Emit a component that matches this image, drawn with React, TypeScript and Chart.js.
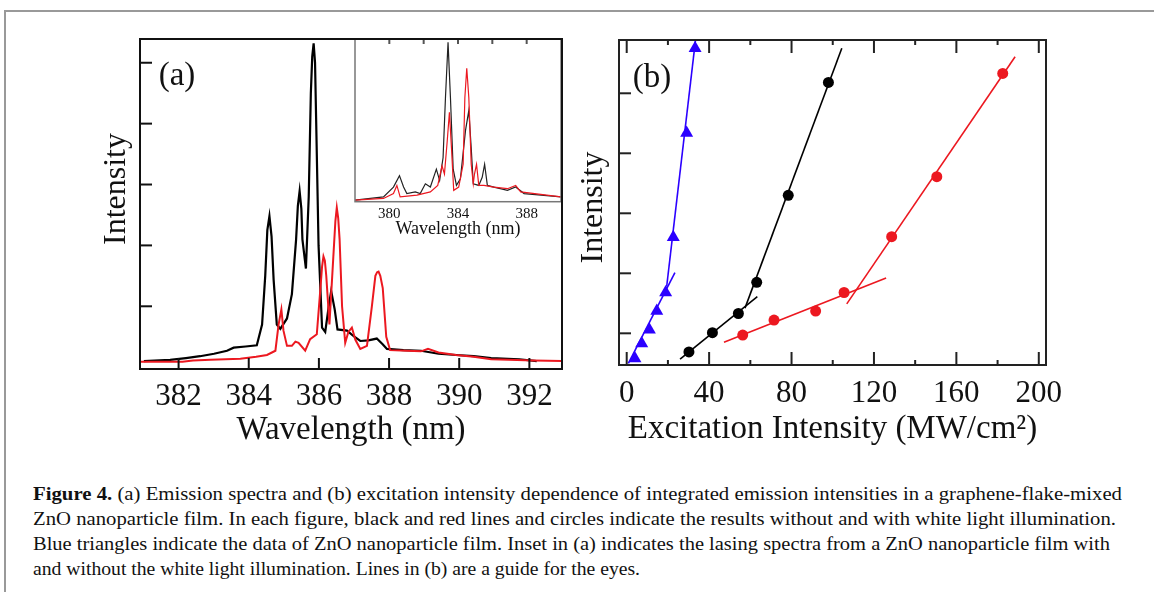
import React, { useEffect, useLayoutEffect, useRef } from 'react';
import { Chart, registerables } from 'chart.js';

Chart.register(...registerables);

const FONT = '"Liberation Serif", "Times New Roman", serif';
const RED = 'rgb(236, 24, 32)';
const BLUE = 'rgb(43, 0, 255)';
const INK = '#111';

// ---------- Panel (a): emission spectra ----------
const specBlackWl = [381.01, 381.76, 382.21, 382.61, 383.01, 383.38, 383.57, 383.91, 384.23, 384.38, 384.47, 384.53, 384.59, 384.65, 384.71, 384.8, 384.9, 385.09, 385.23, 385.35, 385.4, 385.45, 385.5, 385.53, 385.63, 385.71, 385.77, 385.81, 385.85, 385.89, 385.92, 385.99, 386.09, 386.18, 386.28, 386.35, 386.45, 386.53, 386.8, 387.01, 387.18, 387.41, 387.65, 387.81, 387.94, 388.41, 388.91, 389.41, 389.91, 390.41, 390.91, 391.71, 392.21];
const specBlackI = [0.10, 0.12, 0.15, 0.18, 0.22, 0.27, 0.32, 0.34, 0.36, 0.7, 1.5, 2.25, 2.48, 2.15, 1.43, 0.7, 0.63, 0.8, 1.2, 2.1, 2.65, 2.89, 2.6, 2.1, 1.62, 2.8, 4.5, 5.1, 5.32, 5.0, 4.1, 2.0, 0.65, 0.58, 1.0, 1.25, 0.95, 0.62, 0.6, 0.5, 0.43, 0.44, 0.47, 0.38, 0.3, 0.28, 0.27, 0.22, 0.2, 0.18, 0.15, 0.13, 0.1];
const specRedWl = [380.9, 382.11, 382.41, 382.91, 383.76, 384.21, 384.52, 384.76, 384.85, 384.93, 384.99, 385.09, 385.23, 385.33, 385.42, 385.61, 385.75, 385.94, 386.04, 386.09, 386.13, 386.17, 386.21, 386.3, 386.41, 386.47, 386.51, 386.55, 386.59, 386.66, 386.75, 386.84, 386.94, 387.04, 387.18, 387.37, 387.51, 387.61, 387.66, 387.7, 387.75, 387.82, 387.92, 388.03, 388.51, 388.91, 389.11, 389.41, 389.91, 390.41, 390.91, 391.41, 392.11, 392.93];
const specRedI = [0.09, 0.09, 0.11, 0.12, 0.14, 0.17, 0.2, 0.27, 0.7, 0.95, 0.6, 0.35, 0.35, 0.42, 0.4, 0.27, 0.46, 0.54, 1.27, 1.65, 1.82, 1.75, 1.5, 0.7, 1.8, 2.4, 2.62, 2.45, 2.1, 1.0, 0.4, 0.58, 0.65, 0.45, 0.3, 0.35, 1.0, 1.5, 1.56, 1.57, 1.5, 1.3, 0.5, 0.28, 0.27, 0.26, 0.3, 0.24, 0.2, 0.17, 0.13, 0.12, 0.11, 0.1];
const aXTicks = [382, 384, 386, 388, 390, 392];
const aYTicks = [1, 2, 3, 4, 5];

// ---------- Inset of (a): lasing spectra ----------
const insetBlackWl = [378.0, 379.66, 380.24, 380.59, 380.83, 381.02, 381.51, 381.8, 382.1, 382.39, 382.74, 382.93, 383.13, 383.27, 383.42, 383.56, 383.72, 383.91, 384.14, 384.44, 384.63, 384.77, 384.89, 385.21, 385.41, 385.55, 385.71, 386.09, 386.88, 387.36, 387.85, 390.0];
const insetBlackI = [0.01, 0.03, 0.09, 0.16, 0.09, 0.05, 0.06, 0.05, 0.11, 0.09, 0.2, 0.13, 0.27, 0.64, 0.98, 0.64, 0.2, 0.1, 0.14, 0.44, 0.56, 0.33, 0.11, 0.1, 0.15, 0.23, 0.1, 0.09, 0.07, 0.09, 0.05, 0.03];
const insetRedWl = [378.0, 379.66, 380.24, 380.44, 380.63, 381.61, 382.39, 382.82, 383.07, 383.21, 383.37, 383.5, 383.62, 383.75, 384.04, 384.3, 384.4, 384.51, 384.63, 384.77, 384.89, 384.96, 385.08, 385.21, 385.51, 386.09, 386.88, 387.36, 387.65, 390.0];
const insetRedI = [0.01, 0.02, 0.05, 0.1, 0.03, 0.04, 0.06, 0.1, 0.22, 0.17, 0.37, 0.55, 0.33, 0.07, 0.09, 0.23, 0.64, 0.82, 0.64, 0.23, 0.11, 0.17, 0.23, 0.1, 0.1, 0.09, 0.08, 0.1, 0.06, 0.03];
const insetXTicks = [380, 384, 388];
const insetTopTicks = [380, 382, 384, 386, 388];

// ---------- Panel (b): excitation intensity dependence ----------
const blueExc = [4.0, 7.3, 11.0, 14.6, 18.9, 22.6, 29.1, 33.2];
const blueInt = [-0.42, -0.17, 0.06, 0.37, 0.68, 1.6, 3.34, 4.75];
const blackExc = [30.2, 41.6, 54.2, 63.1, 78.4, 97.9];
const blackInt = [-0.31, 0.01, 0.33, 0.85, 2.3, 4.18];
const redExc = [56.3, 71.5, 91.7, 105.5, 128.6, 150.5, 182.5];
const redInt = [-0.03, 0.22, 0.37, 0.68, 1.61, 2.61, 4.33];
const blueGuideLowX = [0.8, 23.4];
const blueGuideLowY = [-0.5, 1.01];
const blueGuideHighX = [19.4, 33.4];
const blueGuideHighY = [0.78, 4.89];
const blackGuideLowX = [25.9, 63.4];
const blackGuideLowY = [-0.43, 0.61];
const blackGuideHighX = [57.4, 104.4];
const blackGuideHighY = [0.42, 4.75];
const redGuideLowX = [47.2, 125.9];
const redGuideLowY = [-0.15, 0.92];
const redGuideHighX = [106.8, 188.5];
const redGuideHighY = [0.49, 4.61];
const bXTicks = [0, 40, 80, 120, 160, 200];
const bXMinorTicks = [20, 60, 100, 140, 180];
const bYTicks = [0, 1, 2, 3, 4];

// ---------- Caption ----------
const captionBold = 'Figure 4.';
const captionLines = [
  ' (a) Emission spectra and (b) excitation intensity dependence of integrated emission intensities in a graphene-flake-mixed',
  'ZnO nanoparticle film. In each figure, black and red lines and circles indicate the results without and with white light illumination.',
  'Blue triangles indicate the data of ZnO nanoparticle film. Inset in (a) indicates the lasing spectra from a ZnO nanoparticle film with',
  'and without the white light illumination. Lines in (b) are a guide for the eyes.',
];
const captionWidths = [1089, 1083, 1077, 607];

const pts = (xs: number[], ys: number[]) => xs.map((x, i) => ({ x, y: ys[i] }));

type TickSpec = { axis: string; side: 'top' | 'bottom' | 'left'; values: number[]; len: number };
type TextSpec = { text: string; x: number; y: number; size: number; rotate?: boolean };
type DecorCfg = { frameColor: string; frameWidth: number; tickColor: string; ticks: TickSpec[]; texts: TextSpec[]; fill?: boolean };

function makeDecor(cfg: DecorCfg) {
  return {
    id: 'decor',
    beforeDraw(chart: any) {
      if (!cfg.fill) return;
      const { ctx, chartArea: a } = chart;
      ctx.save();
      ctx.fillStyle = '#fff';
      ctx.fillRect(a.left, a.top, a.right - a.left, a.bottom - a.top);
      ctx.restore();
    },
    afterDraw(chart: any) {
      const { ctx, chartArea: a } = chart;
      ctx.save();
      ctx.strokeStyle = cfg.tickColor;
      ctx.lineWidth = 2;
      for (const t of cfg.ticks) {
        const sc = chart.scales[t.axis];
        for (const v of t.values) {
          const p = sc.getPixelForValue(v);
          ctx.beginPath();
          if (t.side === 'bottom') { ctx.moveTo(p, a.bottom); ctx.lineTo(p, a.bottom - t.len); }
          else if (t.side === 'top') { ctx.moveTo(p, a.top); ctx.lineTo(p, a.top + t.len); }
          else { ctx.moveTo(a.left, p); ctx.lineTo(a.left + t.len, p); }
          ctx.stroke();
        }
      }
      ctx.strokeStyle = cfg.frameColor;
      ctx.lineWidth = cfg.frameWidth;
      ctx.strokeRect(a.left, a.top, a.right - a.left, a.bottom - a.top);
      ctx.fillStyle = INK;
      ctx.textAlign = 'center';
      ctx.textBaseline = 'middle';
      for (const s of cfg.texts) {
        ctx.save();
        ctx.font = `${s.size}px ${FONT}`;
        ctx.translate(s.x, s.y);
        if (s.rotate) ctx.rotate(-Math.PI / 2);
        ctx.fillText(s.text, 0, 0);
        ctx.restore();
      }
      ctx.restore();
    },
  };
}

const noGrid = { display: false, drawTicks: false };
const noBorder = { display: false };

function useChart(ref: React.RefObject<HTMLCanvasElement>, build: () => any) {
  useEffect(() => {
    if (!ref.current) return;
    const chart = new Chart(ref.current, build());
    return () => chart.destroy();
  }, []);
}

function PanelA() {
  const ref = useRef<HTMLCanvasElement>(null);
  useChart(ref, () => ({
    type: 'line',
    data: {
      datasets: [
        { data: pts(specRedWl, specRedI), borderColor: RED, borderWidth: 2, pointRadius: 0, tension: 0 },
        { data: pts(specBlackWl, specBlackI), borderColor: '#000', borderWidth: 2.2, pointRadius: 0, tension: 0 },
      ],
    },
    options: {
      animation: false, responsive: false, devicePixelRatio: 1,
      layout: { padding: { left: 0, top: 39, right: 8, bottom: 0 } },
      plugins: { legend: { display: false }, tooltip: { enabled: false } },
      scales: {
        x: {
          type: 'linear', min: 380.9, max: 392.93, grid: noGrid, border: noBorder,
          afterBuildTicks: (s: any) => { s.ticks = aXTicks.map((v) => ({ value: v })); },
          ticks: { autoSkip: false, maxRotation: 0, padding: 9, color: INK, font: { family: FONT, size: 31 } },
          title: { display: true, text: 'Wavelength (nm)', color: INK, font: { family: FONT, size: 33 }, padding: { top: 0, bottom: 10 } },
          afterFit: (s: any) => { s.height = 91; },
        },
        y: {
          type: 'linear', min: -0.03, max: 5.39, grid: noGrid, border: noBorder,
          ticks: { display: false },
          afterFit: (s: any) => { s.width = 140; },
        },
      },
    },
    plugins: [makeDecor({
      frameColor: '#111', frameWidth: 2, tickColor: '#111',
      ticks: [
        { axis: 'x', side: 'bottom', values: aXTicks, len: 11 },
        { axis: 'y', side: 'left', values: aYTicks, len: 12 },
      ],
      texts: [
        { text: '(a)', x: 177, y: 76, size: 33 },
        { text: 'Intensity', x: 117, y: 189, size: 32, rotate: true },
      ],
    })],
  }));
  return <canvas ref={ref} width={570} height={460} style={{ position: 'absolute', left: 0, top: 0, width: 570, height: 460 }} />;
}

function Inset() {
  const ref = useRef<HTMLCanvasElement>(null);
  useChart(ref, () => ({
    type: 'line',
    data: {
      datasets: [
        { data: pts(insetRedWl, insetRedI), borderColor: RED, borderWidth: 1.2, pointRadius: 0, tension: 0 },
        { data: pts(insetBlackWl, insetBlackI), borderColor: '#222', borderWidth: 1.2, pointRadius: 0, tension: 0 },
      ],
    },
    options: {
      animation: false, responsive: false, devicePixelRatio: 1,
      layout: { padding: { left: 25, top: 9, right: 19, bottom: 0 } },
      plugins: { legend: { display: false }, tooltip: { enabled: false } },
      scales: {
        x: {
          type: 'linear', min: 378, max: 390, grid: noGrid, border: noBorder,
          afterBuildTicks: (s: any) => { s.ticks = insetXTicks.map((v) => ({ value: v })); },
          ticks: { autoSkip: false, maxRotation: 0, padding: 3, color: INK, font: { family: FONT, size: 15 } },
          title: { display: true, text: 'Wavelength (nm)', color: INK, font: { family: FONT, size: 18 }, padding: { top: 0, bottom: 5 } },
          afterFit: (s: any) => { s.height = 43.3; },
        },
        y: { type: 'linear', min: 0, max: 1, display: false },
      },
    },
    plugins: [makeDecor({
      fill: true, frameColor: '#777', frameWidth: 1.5, tickColor: '#555',
      ticks: [{ axis: 'x', side: 'top', values: insetTopTicks, len: 5 }],
      texts: [],
    })],
  }));
  return <canvas ref={ref} width={250} height={215} style={{ position: 'absolute', left: 330, top: 30, width: 250, height: 215 }} />;
}

function PanelB() {
  const ref = useRef<HTMLCanvasElement>(null);
  const marker = (xs: number[], ys: number[], color: string, style: string, r: number) => ({
    data: pts(xs, ys), showLine: false, pointStyle: style, pointRadius: r,
    pointBackgroundColor: color, pointBorderColor: color, pointBorderWidth: 0, borderColor: color,
  });
  const guide = (xs: number[], ys: number[], color: string) => ({
    data: pts(xs, ys), borderColor: color, borderWidth: 1.6, pointRadius: 0, tension: 0,
  });
  useChart(ref, () => ({
    type: 'line',
    data: {
      datasets: [
        marker(blueExc, blueInt, BLUE, 'triangle', 7.5),
        marker(blackExc, blackInt, '#000', 'circle', 5.5),
        marker(redExc, redInt, RED, 'circle', 5.5),
        guide(blueGuideLowX, blueGuideLowY, BLUE),
        guide(blueGuideHighX, blueGuideHighY, BLUE),
        guide(blackGuideLowX, blackGuideLowY, '#000'),
        guide(blackGuideHighX, blackGuideHighY, '#000'),
        guide(redGuideLowX, redGuideLowY, RED),
        guide(redGuideHighX, redGuideHighY, RED),
      ],
    },
    options: {
      animation: false, responsive: false, devicePixelRatio: 1,
      layout: { padding: { left: 0, top: 40, right: 108, bottom: 0 } },
      plugins: { legend: { display: false }, tooltip: { enabled: false } },
      scales: {
        x: {
          type: 'linear', min: -3.74, max: 203.5, grid: noGrid, border: noBorder,
          afterBuildTicks: (s: any) => { s.ticks = bXTicks.map((v) => ({ value: v })); },
          ticks: { autoSkip: false, maxRotation: 0, padding: 10, color: INK, font: { family: FONT, size: 31 } },
          title: { display: true, text: 'Excitation Intensity (MW/cm²)', color: INK, font: { family: FONT, size: 33 }, padding: { top: 0, bottom: 11 } },
          afterFit: (s: any) => { s.height = 95; },
        },
        y: {
          type: 'linear', min: -0.528, max: 4.888, grid: noGrid, border: noBorder,
          ticks: { display: false },
          afterFit: (s: any) => { s.width = 49; },
        },
      },
    },
    plugins: [makeDecor({
      frameColor: '#222', frameWidth: 2, tickColor: '#222',
      ticks: [
        { axis: 'x', side: 'bottom', values: bXTicks, len: 13 },
        { axis: 'x', side: 'bottom', values: bXMinorTicks, len: 5 },
        { axis: 'x', side: 'top', values: bXTicks, len: 13 },
        { axis: 'x', side: 'top', values: bXMinorTicks, len: 5 },
        { axis: 'y', side: 'left', values: bYTicks, len: 12 },
      ],
      texts: [
        { text: '(b)', x: 82, y: 78, size: 33 },
        { text: 'Intensity', x: 24, y: 207.5, size: 32, rotate: true },
      ],
    })],
  }));
  return <canvas ref={ref} width={584} height={460} style={{ position: 'absolute', left: 570, top: 0, width: 584, height: 460 }} />;
}

function Caption() {
  const refs = useRef<(HTMLDivElement | null)[]>([]);
  useLayoutEffect(() => {
    refs.current.forEach((el, i) => {
      if (!el) return;
      el.style.transform = 'none';
      const w = el.getBoundingClientRect().width;
      el.style.transform = `scaleX(${captionWidths[i] / w})`;
    });
  }, []);
  return (
    <>
      {captionLines.map((line, i) => (
        <div
          key={i}
          ref={(el) => { refs.current[i] = el; }}
          style={{
            position: 'absolute', left: 33, top: 482 + 25 * i, whiteSpace: 'pre',
            fontFamily: FONT, fontSize: 18.5, lineHeight: '25px', color: '#111', transformOrigin: '0 0',
          }}
        >
          {i === 0 ? <b>{captionBold}</b> : null}
          {line}
        </div>
      ))}
    </>
  );
}

export default function App() {
  return (
    <div style={{ position: 'fixed', left: 0, top: 0, width: 1154, height: 592, background: '#fff', overflow: 'hidden' }}>
      <div style={{ position: 'absolute', left: 4, top: 10, width: 1160, height: 600, borderTop: '2px solid #999', borderLeft: '2px solid #999' }} />
      <Inset />
      <PanelA />
      <PanelB />
      <Caption />
    </div>
  );
}
